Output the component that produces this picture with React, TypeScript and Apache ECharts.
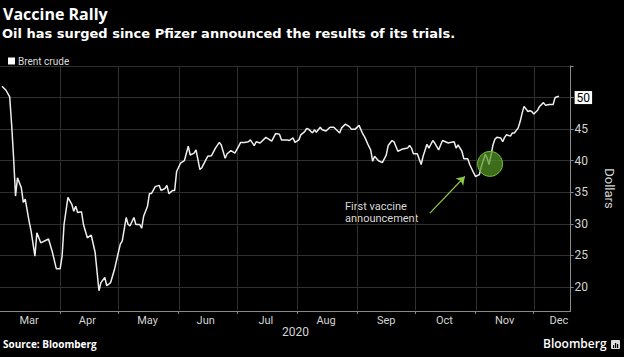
import React, { useEffect, useRef } from 'react';
import * as echarts from 'echarts';

const dates: string[] = [
  '2020-03-02','2020-03-04','2020-03-06','2020-03-07','2020-03-08','2020-03-09','2020-03-10','2020-03-12','2020-03-13','2020-03-14',
  '2020-03-16','2020-03-17','2020-03-19','2020-03-20','2020-03-22','2020-03-26','2020-03-28','2020-03-30','2020-04-01','2020-04-02',
  '2020-04-03','2020-04-05','2020-04-07','2020-04-08','2020-04-09','2020-04-10','2020-04-12','2020-04-13','2020-04-15','2020-04-17',
  '2020-04-19','2020-04-21','2020-04-22','2020-04-24','2020-04-25','2020-04-27','2020-04-29','2020-05-01','2020-05-02','2020-05-03',
  '2020-05-05','2020-05-06','2020-05-07','2020-05-09','2020-05-10','2020-05-12','2020-05-13','2020-05-14','2020-05-16','2020-05-17',
  '2020-05-18','2020-05-20','2020-05-22','2020-05-23','2020-05-25','2020-05-26','2020-05-27','2020-05-29','2020-05-30','2020-05-31',
  '2020-06-02','2020-06-04','2020-06-06','2020-06-07','2020-06-09','2020-06-10','2020-06-12','2020-06-13','2020-06-16','2020-06-18',
  '2020-06-20','2020-06-22','2020-06-23','2020-06-25','2020-06-26','2020-06-28','2020-06-30','2020-07-02','2020-07-03','2020-07-05',
  '2020-07-07','2020-07-08','2020-07-10','2020-07-11','2020-07-13','2020-07-16','2020-07-18','2020-07-19','2020-07-21','2020-07-23',
  '2020-07-24','2020-07-27','2020-07-28','2020-07-30','2020-07-31','2020-08-02','2020-08-03','2020-08-05','2020-08-06','2020-08-07',
  '2020-08-09','2020-08-10','2020-08-11','2020-08-13','2020-08-14','2020-08-16','2020-08-18','2020-08-20','2020-08-23','2020-08-24',
  '2020-08-26','2020-08-28','2020-08-29','2020-08-31','2020-09-02','2020-09-04','2020-09-05','2020-09-07','2020-09-08','2020-09-09',
  '2020-09-10','2020-09-12','2020-09-14','2020-09-16','2020-09-17','2020-09-19','2020-09-20','2020-09-22','2020-09-24','2020-09-27',
  '2020-09-28','2020-09-29','2020-09-30','2020-10-02','2020-10-04','2020-10-05','2020-10-07','2020-10-08','2020-10-10','2020-10-11',
  '2020-10-13','2020-10-14','2020-10-15','2020-10-18','2020-10-19','2020-10-21','2020-10-22','2020-10-23','2020-10-25','2020-10-26',
  '2020-10-28','2020-10-29','2020-10-31','2020-11-01','2020-11-03','2020-11-04','2020-11-06','2020-11-07','2020-11-08','2020-11-09',
  '2020-11-10','2020-11-11','2020-11-12','2020-11-14','2020-11-15','2020-11-16','2020-11-17','2020-11-19','2020-11-20','2020-11-21',
  '2020-11-23','2020-11-24','2020-11-25','2020-11-26','2020-11-28','2020-11-29','2020-11-30','2020-12-01','2020-12-03','2020-12-04',
  '2020-12-06','2020-12-07','2020-12-09','2020-12-11','2020-12-12','2020-12-14'
];

const brent: number[] = [
  51.8,51.2,50.1,45.7,40.5,34.4,37.3,35.7,33.4,33.9,
  30.4,28.9,24.9,28.6,27.0,27.6,25.5,22.9,22.9,24.9,
  29.9,34.2,33.1,32.0,32.8,31.8,31.9,29.9,27.8,28.2,
  25.5,19.4,20.7,21.5,20.2,20.7,22.8,25.5,26.8,27.3,
  31.0,29.9,29.7,31.0,29.9,29.9,29.3,31.2,32.8,34.8,
  34.8,35.9,36.1,35.3,35.6,36.1,34.8,35.3,35.3,38.3,
  39.6,40.0,42.3,40.9,41.2,41.7,38.6,38.9,40.7,40.8,
  42.0,42.9,42.5,40.4,41.1,41.6,41.2,42.3,42.9,42.9,
  43.0,43.3,42.4,43.0,42.8,43.7,43.3,43.1,44.3,44.2,
  43.3,43.3,43.2,43.6,42.9,43.3,44.1,44.6,45.1,45.0,
  44.4,44.9,44.5,45.3,44.9,44.7,45.3,45.3,44.4,45.2,
  45.8,45.4,45.0,45.0,45.6,44.2,43.7,42.3,41.7,39.9,
  40.7,40.0,39.7,40.9,42.4,43.2,43.0,41.5,41.8,42.0,
  42.4,42.0,41.1,41.1,39.4,40.7,42.6,42.0,43.2,42.8,
  41.7,42.5,43.2,42.8,42.9,43.0,42.0,42.5,41.5,40.3,
  40.3,39.4,38.1,37.5,37.8,39.1,41.0,40.4,39.4,40.9,
  42.5,43.4,43.7,43.6,43.0,43.7,44.1,43.9,44.4,44.4,
  45.2,46.2,47.5,48.6,47.8,47.9,47.8,47.4,48.0,48.6,
  49.2,48.8,48.9,48.9,50.0,50.2
];

const monthStarts: string[] = ['2020-04-01','2020-05-01','2020-06-01','2020-07-01','2020-08-01','2020-09-01','2020-10-01','2020-11-01','2020-12-01'];
const monthLabelDates: string[] = ['2020-03-16','2020-04-15','2020-05-16','2020-06-15','2020-07-16','2020-08-16','2020-09-16','2020-10-16','2020-11-16','2020-12-14'];
const monthNames: string[] = ['Jan','Feb','Mar','Apr','May','Jun','Jul','Aug','Sep','Oct','Nov','Dec'];
const yTicks: number[] = [20,25,30,35,40,45,50,55];
const yLabels: number[] = [20,25,30,35,40,45,50];
const lastValueTag = 50;
const xRange: string[] = ['2020-03-01','2020-12-20'];
const yRange: number[] = [16.2, 55];

// annotation anchors (in data space)
const vaccineMark: [string, number] = ['2020-11-08', 39.5];
const arrowFrom: [string, number] = ['2020-10-08', 31.7];
const arrowTo: [string, number] = ['2020-10-26', 37.5];

const ts = (s: string) => {
  const [y, m, d] = s.split('-').map(Number);
  return Date.UTC(y, m - 1, d);
};
const HALF_DAY = 12 * 3600 * 1000;

export default function App() {
  const ref = useRef<HTMLDivElement>(null);
  useEffect(() => {
    document.body.style.margin = '0';
    if (!ref.current) return;
    const chart = echarts.init(ref.current, undefined, { renderer: 'svg' });
    const data = dates.map((d, i) => [ts(d), brent[i]]);
    const gridColor = '#303030';
    const axisColor = '#8a8a8a';
    const labelColor = '#d4d4d4';
    chart.setOption({
      animation: false,
      backgroundColor: '#000',
      grid: { left: 0, right: 37, top: 66, bottom: 46, containLabel: false },
      legend: {
        left: 3, top: 51, icon: 'rect', itemWidth: 7, itemHeight: 7, itemGap: 4,
        textStyle: { color: '#dddddd', fontSize: 10, fontFamily: 'Roboto', padding: [0, 0, 0, -2] },
        data: ['Brent crude'],
        selectedMode: false,
      },
      xAxis: {
        type: 'value',
        min: ts(xRange[0]),
        max: ts(xRange[1]),
        axisLine: { show: true, lineStyle: { color: axisColor, width: 1 } },
        axisTick: { show: true, customValues: monthStarts.map(ts), length: 3, lineStyle: { color: axisColor } },
        axisLabel: {
          customValues: monthLabelDates.map(ts),
          formatter: (v: number) => monthNames[new Date(v).getUTCMonth()],
          color: labelColor, fontSize: 11, fontFamily: 'Roboto', margin: 4, hideOverlap: false,
        },
        splitLine: { show: false },
      },
      yAxis: {
        type: 'value',
        position: 'right',
        min: yRange[0],
        max: yRange[1],
        name: 'Dollars',
        nameLocation: 'middle',
        nameRotate: -90,
        nameGap: 28,
        nameTextStyle: { color: labelColor, fontSize: 13, fontFamily: 'Roboto' },
        axisLine: { show: true, lineStyle: { color: axisColor } },
        axisTick: { show: true, customValues: yTicks, length: 3, lineStyle: { color: axisColor } },
        axisLabel: {
          customValues: yLabels,
          margin: 4,
          color: labelColor, fontSize: 12, fontFamily: 'Roboto',
          formatter: (v: number) => (v === lastValueTag ? '{tag|' + v + '}' : String(v)),
          rich: {
            tag: { backgroundColor: '#ffffff', color: '#000000', padding: [1, 2, 0, 2], fontSize: 12, fontFamily: 'Roboto' },
          },
        },
        splitLine: { show: true, lineStyle: { color: gridColor, width: 1 } },
      },
      series: [
        {
          name: 'Brent crude',
          type: 'line',
          data,
          z: 3,
          showSymbol: false,
          symbol: 'none',
          lineStyle: { color: '#eeeeee', width: 1.5 },
          itemStyle: { color: '#ffffff' },
          markPoint: {
            silent: true,
            symbol: 'circle',
            symbolSize: 25,
            itemStyle: { color: 'rgba(84,150,36,0.72)', borderColor: '#74c03e', borderWidth: 1 },
            label: { show: false },
            data: [{ coord: [ts(vaccineMark[0]) + HALF_DAY, vaccineMark[1]] }],
          },
          markLine: {
            silent: true,
            symbol: ['none', 'arrow'],
            symbolSize: 8,
            lineStyle: { color: '#8cc84b', width: 1.2, type: 'solid' },
            itemStyle: { color: '#8cc84b' },
            label: { show: false },
            data: [[
              { coord: [ts(arrowFrom[0]) + HALF_DAY, arrowFrom[1]] },
              { coord: [ts(arrowTo[0]) + HALF_DAY, arrowTo[1]] },
            ]],
          },
        },
      ],
    });

    // vertical month gridlines, positioned through the chart's own scales
    const monthLines = monthStarts.map((m) => {
      const top = chart.convertToPixel({ gridIndex: 0 }, [ts(m), yRange[1]]) as number[];
      const bottom = chart.convertToPixel({ gridIndex: 0 }, [ts(m), yRange[0]]) as number[];
      const x = Math.round(top[0]) + 0.5;
      return {
        type: 'rect', z: 1, silent: true,
        shape: { x: x - 0.5, y: top[1], width: 1, height: bottom[1] - top[1] - 1 },
        style: { fill: gridColor },
      };
    });

    chart.setOption({
      graphic: [
        ...monthLines,
        { type: 'text', left: 3, top: 6, style: { text: 'Vaccine Rally', fill: '#ffffff', font: 'bold 16px "Open Sans"' } },
        { type: 'text', left: 2, top: 27, style: { text: 'Oil has surged since Pfizer announced the results of its trials.', fill: '#ffffff', font: 'bold 13px "DejaVu Sans"' } },
        { type: 'text', left: 345, top: 200, style: { text: 'First vaccine\nannouncement', fill: '#d8d8d8', font: '11px Roboto', lineHeight: 12.6 } },
        { type: 'text', left: 282, top: 326, style: { text: '2020', fill: labelColor, font: '12px Roboto' } },
        { type: 'text', left: 3, top: 339, style: { text: 'Source: Bloomberg', fill: '#ffffff', font: 'bold 10px "Open Sans"' } },
        { type: 'text', left: 543, top: 337, style: { text: 'Bloomberg', fill: '#ffffff', font: '600 12px "Open Sans"' } },
        { type: 'rect', shape: { x: 611, y: 340, width: 9, height: 9, r: 1 }, style: { fill: '#dddddd' } },
        { type: 'rect', shape: { x: 613, y: 345, width: 1.2, height: 3 }, style: { fill: '#000' } },
        { type: 'rect', shape: { x: 615, y: 343, width: 1.2, height: 5 }, style: { fill: '#000' } },
        { type: 'rect', shape: { x: 617, y: 344, width: 1.2, height: 4 }, style: { fill: '#000' } },
        { type: 'polygon', shape: { points: [[588, 97.5], [591.5, 92.3], [591.5, 102.7]] }, style: { fill: '#ffffff' } },
      ],
    });
    return () => chart.dispose();
  }, []);
  return <div ref={ref} style={{ width: 624, height: 357 }} />;
}
